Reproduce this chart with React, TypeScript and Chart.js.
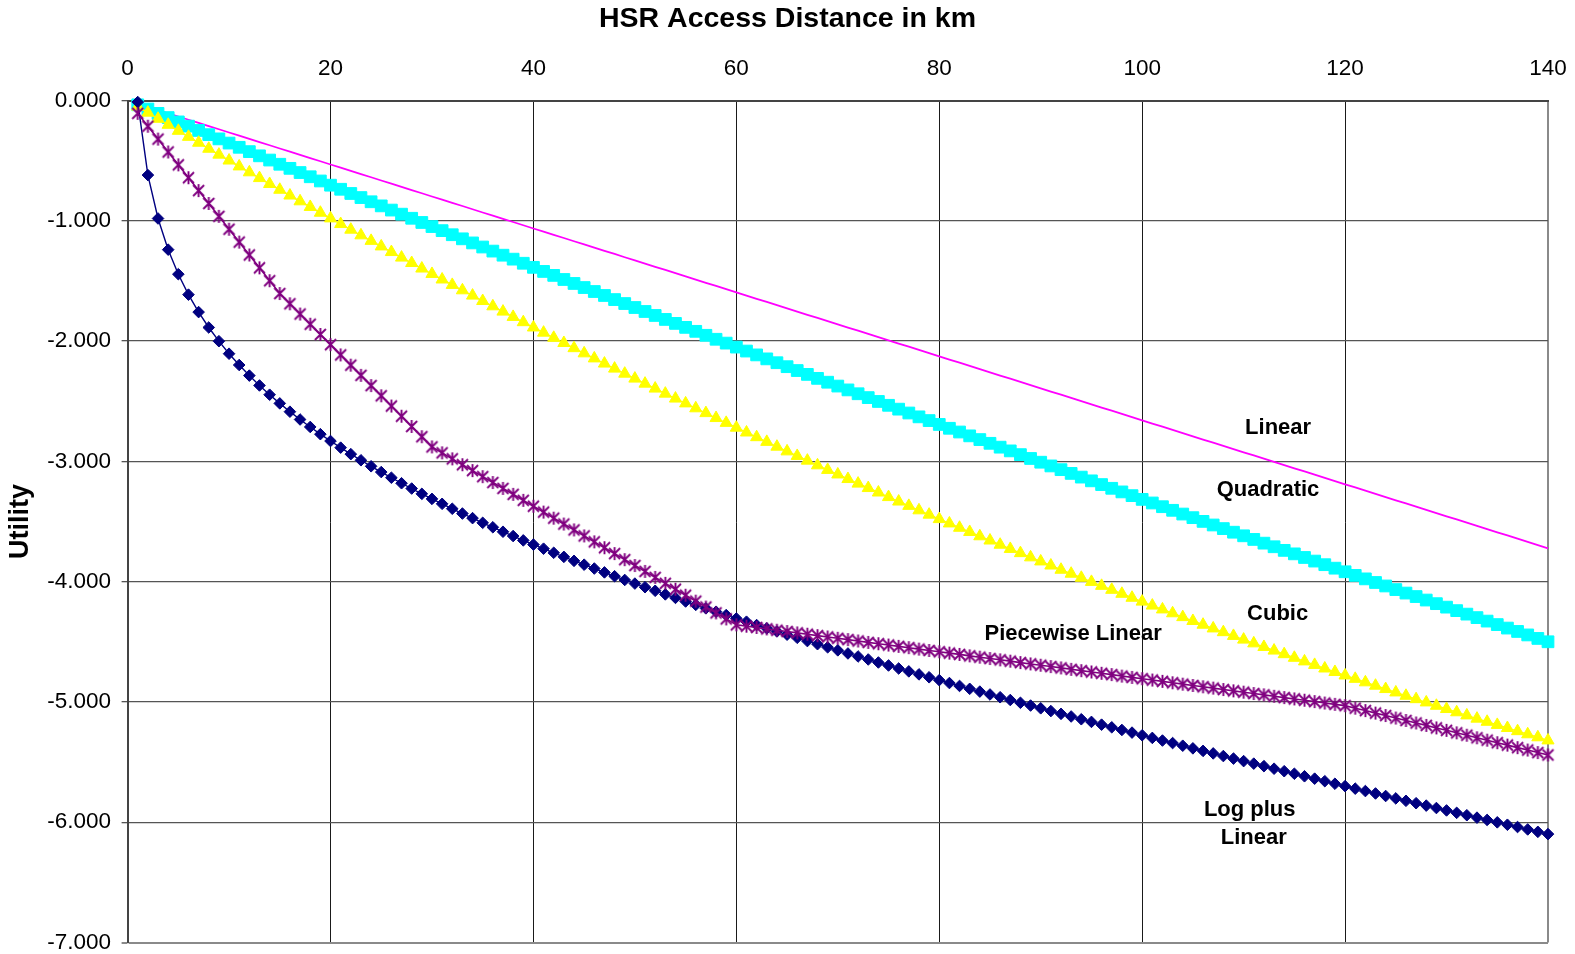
import React, { useEffect, useRef } from "react";
import { Chart, registerables } from "chart.js";

Chart.register(...registerables);

const FONT = '"Liberation Sans", Arial, Helvetica, sans-serif';

// Access distance (km) of each computed point
const DISTANCE_KM = [
  1, 2, 3, 4, 5, 6, 7, 8, 9, 10,
  11, 12, 13, 14, 15, 16, 17, 18, 19, 20,
  21, 22, 23, 24, 25, 26, 27, 28, 29, 30,
  31, 32, 33, 34, 35, 36, 37, 38, 39, 40,
  41, 42, 43, 44, 45, 46, 47, 48, 49, 50,
  51, 52, 53, 54, 55, 56, 57, 58, 59, 60,
  61, 62, 63, 64, 65, 66, 67, 68, 69, 70,
  71, 72, 73, 74, 75, 76, 77, 78, 79, 80,
  81, 82, 83, 84, 85, 86, 87, 88, 89, 90,
  91, 92, 93, 94, 95, 96, 97, 98, 99, 100,
  101, 102, 103, 104, 105, 106, 107, 108, 109, 110,
  111, 112, 113, 114, 115, 116, 117, 118, 119, 120,
  121, 122, 123, 124, 125, 126, 127, 128, 129, 130,
  131, 132, 133, 134, 135, 136, 137, 138, 139, 140,
];

const LINEAR = [
  -0.027, -0.053, -0.080, -0.106, -0.133, -0.160, -0.186, -0.213, -0.239, -0.266,
  -0.292, -0.319, -0.346, -0.372, -0.399, -0.425, -0.452, -0.479, -0.505, -0.532,
  -0.558, -0.585, -0.612, -0.638, -0.665, -0.691, -0.718, -0.745, -0.771, -0.798,
  -0.824, -0.851, -0.877, -0.904, -0.931, -0.957, -0.984, -1.010, -1.037, -1.064,
  -1.090, -1.117, -1.143, -1.170, -1.197, -1.223, -1.250, -1.276, -1.303, -1.330,
  -1.356, -1.383, -1.409, -1.436, -1.462, -1.489, -1.516, -1.542, -1.569, -1.595,
  -1.622, -1.649, -1.675, -1.702, -1.728, -1.755, -1.782, -1.808, -1.835, -1.861,
  -1.888, -1.914, -1.941, -1.968, -1.994, -2.021, -2.047, -2.074, -2.101, -2.127,
  -2.154, -2.180, -2.207, -2.234, -2.260, -2.287, -2.313, -2.340, -2.367, -2.393,
  -2.420, -2.446, -2.473, -2.499, -2.526, -2.553, -2.579, -2.606, -2.632, -2.659,
  -2.686, -2.712, -2.739, -2.765, -2.792, -2.819, -2.845, -2.872, -2.898, -2.925,
  -2.951, -2.978, -3.005, -3.031, -3.058, -3.084, -3.111, -3.138, -3.164, -3.191,
  -3.217, -3.244, -3.271, -3.297, -3.324, -3.350, -3.377, -3.404, -3.430, -3.457,
  -3.483, -3.510, -3.536, -3.563, -3.590, -3.616, -3.643, -3.669, -3.696, -3.723,
];

const QUADRATIC = [
  -0.036, -0.071, -0.107, -0.142, -0.178, -0.213, -0.249, -0.284, -0.319, -0.354,
  -0.389, -0.425, -0.460, -0.495, -0.530, -0.564, -0.599, -0.634, -0.669, -0.704,
  -0.738, -0.773, -0.807, -0.842, -0.876, -0.911, -0.945, -0.979, -1.014, -1.048,
  -1.082, -1.116, -1.150, -1.184, -1.218, -1.252, -1.286, -1.319, -1.353, -1.387,
  -1.421, -1.454, -1.488, -1.521, -1.555, -1.588, -1.621, -1.655, -1.688, -1.721,
  -1.754, -1.787, -1.820, -1.853, -1.886, -1.919, -1.952, -1.985, -2.017, -2.050,
  -2.083, -2.115, -2.148, -2.180, -2.213, -2.245, -2.277, -2.310, -2.342, -2.374,
  -2.406, -2.438, -2.470, -2.502, -2.534, -2.566, -2.598, -2.630, -2.661, -2.693,
  -2.725, -2.756, -2.788, -2.819, -2.850, -2.882, -2.913, -2.944, -2.976, -3.007,
  -3.038, -3.069, -3.100, -3.131, -3.162, -3.193, -3.224, -3.254, -3.285, -3.316,
  -3.346, -3.377, -3.407, -3.438, -3.468, -3.499, -3.529, -3.559, -3.589, -3.619,
  -3.649, -3.680, -3.710, -3.740, -3.769, -3.799, -3.829, -3.859, -3.888, -3.918,
  -3.948, -3.977, -4.007, -4.036, -4.066, -4.095, -4.124, -4.153, -4.183, -4.212,
  -4.241, -4.270, -4.299, -4.328, -4.357, -4.386, -4.414, -4.443, -4.472, -4.500,
];

const CUBIC = [
  -0.051, -0.101, -0.152, -0.202, -0.252, -0.302, -0.351, -0.401, -0.450, -0.499,
  -0.548, -0.597, -0.645, -0.694, -0.742, -0.790, -0.838, -0.885, -0.933, -0.980,
  -1.027, -1.074, -1.121, -1.167, -1.213, -1.260, -1.306, -1.351, -1.397, -1.442,
  -1.488, -1.533, -1.578, -1.622, -1.667, -1.711, -1.755, -1.799, -1.843, -1.887,
  -1.930, -1.973, -2.016, -2.059, -2.102, -2.144, -2.187, -2.229, -2.271, -2.312,
  -2.354, -2.395, -2.437, -2.478, -2.518, -2.559, -2.599, -2.640, -2.680, -2.720,
  -2.760, -2.799, -2.838, -2.878, -2.917, -2.955, -2.994, -3.033, -3.071, -3.109,
  -3.147, -3.185, -3.222, -3.259, -3.297, -3.334, -3.370, -3.407, -3.443, -3.480,
  -3.516, -3.552, -3.587, -3.623, -3.658, -3.693, -3.728, -3.763, -3.798, -3.832,
  -3.866, -3.901, -3.934, -3.968, -4.002, -4.035, -4.068, -4.101, -4.134, -4.166,
  -4.199, -4.231, -4.263, -4.295, -4.327, -4.358, -4.389, -4.420, -4.451, -4.482,
  -4.513, -4.543, -4.573, -4.603, -4.633, -4.663, -4.692, -4.722, -4.751, -4.780,
  -4.808, -4.837, -4.865, -4.893, -4.921, -4.949, -4.977, -5.004, -5.032, -5.059,
  -5.086, -5.112, -5.139, -5.165, -5.191, -5.217, -5.243, -5.269, -5.294, -5.320,
];

const PIECEWISE_LINEAR = [
  -0.107, -0.214, -0.321, -0.428, -0.535, -0.642, -0.749, -0.856, -0.963, -1.070,
  -1.177, -1.284, -1.391, -1.498, -1.605, -1.690, -1.775, -1.860, -1.945, -2.030,
  -2.115, -2.200, -2.285, -2.370, -2.455, -2.540, -2.625, -2.710, -2.795, -2.880,
  -2.929, -2.979, -3.028, -3.077, -3.127, -3.176, -3.225, -3.274, -3.324, -3.373,
  -3.422, -3.472, -3.521, -3.570, -3.620, -3.669, -3.718, -3.767, -3.817, -3.866,
  -3.915, -3.965, -4.014, -4.063, -4.113, -4.162, -4.211, -4.260, -4.310, -4.359,
  -4.370, -4.381, -4.393, -4.404, -4.415, -4.426, -4.437, -4.449, -4.460, -4.471,
  -4.482, -4.493, -4.505, -4.516, -4.527, -4.538, -4.549, -4.561, -4.572, -4.583,
  -4.594, -4.605, -4.617, -4.628, -4.639, -4.650, -4.661, -4.673, -4.684, -4.695,
  -4.706, -4.717, -4.729, -4.740, -4.751, -4.762, -4.773, -4.785, -4.796, -4.807,
  -4.818, -4.829, -4.841, -4.852, -4.863, -4.874, -4.885, -4.897, -4.908, -4.919,
  -4.930, -4.941, -4.953, -4.964, -4.975, -4.986, -4.997, -5.009, -5.020, -5.031,
  -5.052, -5.072, -5.093, -5.113, -5.134, -5.154, -5.175, -5.195, -5.216, -5.236,
  -5.257, -5.277, -5.298, -5.318, -5.339, -5.359, -5.380, -5.400, -5.421, -5.441,
];

const LOG_PLUS_LINEAR = [
  -0.013, -0.620, -0.981, -1.240, -1.444, -1.614, -1.759, -1.887, -2.001, -2.105,
  -2.199, -2.287, -2.369, -2.446, -2.518, -2.587, -2.652, -2.714, -2.774, -2.831,
  -2.886, -2.940, -2.991, -3.041, -3.089, -3.136, -3.182, -3.226, -3.270, -3.312,
  -3.353, -3.394, -3.434, -3.472, -3.511, -3.548, -3.585, -3.621, -3.657, -3.692,
  -3.726, -3.760, -3.794, -3.827, -3.859, -3.891, -3.923, -3.955, -3.986, -4.016,
  -4.046, -4.076, -4.106, -4.135, -4.165, -4.193, -4.222, -4.250, -4.278, -4.306,
  -4.333, -4.361, -4.388, -4.414, -4.441, -4.467, -4.494, -4.520, -4.546, -4.571,
  -4.597, -4.622, -4.647, -4.672, -4.697, -4.722, -4.746, -4.771, -4.795, -4.819,
  -4.843, -4.867, -4.891, -4.914, -4.938, -4.961, -4.984, -5.007, -5.030, -5.053,
  -5.076, -5.099, -5.121, -5.144, -5.166, -5.189, -5.211, -5.233, -5.255, -5.277,
  -5.299, -5.321, -5.342, -5.364, -5.386, -5.407, -5.428, -5.450, -5.471, -5.492,
  -5.513, -5.534, -5.555, -5.576, -5.597, -5.618, -5.638, -5.659, -5.680, -5.700,
  -5.721, -5.741, -5.761, -5.782, -5.802, -5.822, -5.842, -5.862, -5.882, -5.902,
  -5.922, -5.942, -5.962, -5.981, -6.001, -6.021, -6.040, -6.060, -6.080, -6.099,
];

const X_TICKS = [0, 20, 40, 60, 80, 100, 120, 140];
const Y_TICKS = [0, -1, -2, -3, -4, -5, -6, -7];

// In-plot curve names, anchored in data units (km, utility)
const CURVE_LABELS = ["Linear", "Quadratic", "Cubic", "Piecewise Linear", "Log plus", "Linear"];
const CURVE_LABEL_X = [113.4, 112.4, 113.35, 93.2, 110.6, 111.0];
const CURVE_LABEL_Y = [-2.723, -3.236, -4.271, -4.437, -5.898, -6.127];

function makeStarMarker(color: string): HTMLCanvasElement {
  const c = document.createElement("canvas");
  c.width = 15;
  c.height = 15;
  const g = c.getContext("2d")!;
  g.strokeStyle = color;
  g.lineWidth = 1.9;
  g.beginPath();
  g.moveTo(2, 2);
  g.lineTo(13, 13);
  g.moveTo(13, 2);
  g.lineTo(2, 13);
  g.moveTo(7.5, 1);
  g.lineTo(7.5, 14);
  g.stroke();
  return c;
}

const curveLabelPlugin = {
  id: "curveLabels",
  afterDatasetsDraw(chart: any) {
    const { ctx, scales } = chart;
    const xs = scales.x;
    const ys = scales.y;
    ctx.save();
    ctx.font = `bold 22px ${FONT}`;
    ctx.fillStyle = "#000";
    ctx.textAlign = "center";
    ctx.textBaseline = "middle";
    CURVE_LABELS.forEach((text, i) => {
      ctx.fillText(text, xs.getPixelForValue(CURVE_LABEL_X[i]), ys.getPixelForValue(CURVE_LABEL_Y[i]));
    });
    ctx.restore();
  },
};

function points(values: number[]) {
  return DISTANCE_KM.map((x, i) => ({ x, y: values[i] }));
}

export default function App() {
  const canvasRef = useRef<HTMLCanvasElement | null>(null);

  useEffect(() => {
    const canvas = canvasRef.current;
    if (!canvas) return;
    const star = makeStarMarker("#800080");

    const chart = new Chart(canvas, {
      type: "line",
      data: {
        datasets: [
          {
            label: "Piecewise Linear",
            data: points(PIECEWISE_LINEAR),
            borderColor: "#800080",
            borderWidth: 1.6,
            pointStyle: star as any,
            pointRadius: 6,
            clip: false as any,
          },
          {
            label: "Log plus Linear",
            data: points(LOG_PLUS_LINEAR),
            borderColor: "#000080",
            backgroundColor: "#000080",
            borderWidth: 1.4,
            pointStyle: "rectRot",
            pointRadius: 5.8,
            pointBorderWidth: 1,
            pointBackgroundColor: "#000080",
            pointBorderColor: "#000080",
            clip: false as any,
          },
          {
            label: "Cubic",
            data: points(CUBIC),
            borderColor: "#FFFF00",
            borderWidth: 1.5,
            pointStyle: "triangle",
            pointRadius: 7,
            pointBorderWidth: 1,
            pointBackgroundColor: "#FFFF00",
            pointBorderColor: "#FFFF00",
            clip: false as any,
          },
          {
            label: "Quadratic",
            data: points(QUADRATIC),
            borderColor: "#00FFFF",
            borderWidth: 1.5,
            pointStyle: "rect",
            pointRadius: 8.3,
            pointBorderWidth: 1,
            pointBackgroundColor: "#00FFFF",
            pointBorderColor: "#00FFFF",
            clip: false as any,
          },
          {
            label: "Linear",
            data: points(LINEAR),
            borderColor: "#FF00FF",
            borderWidth: 1.8,
            pointRadius: 0,
            clip: false as any,
          },
        ],
      },
      options: {
        responsive: false,
        animation: false,
        events: [],
        layout: { padding: { left: 0, right: 0, top: 0, bottom: 11.5 } },
        plugins: {
          legend: { display: false },
          tooltip: { enabled: false },
          title: {
            display: true,
            text: "HSR Access Distance in km",
            color: "#000",
            font: { family: FONT, size: 28.5, weight: "bold", lineHeight: 1.2 },
            padding: { top: 2, bottom: 0 },
          },
        },
        scales: {
          x: {
            type: "linear",
            position: "top",
            min: 0,
            max: 140,
            afterBuildTicks: (scale: any) => {
              scale.ticks = X_TICKS.map((value) => ({ value }));
            },
            afterFit: (scale: any) => {
              scale.height = 64.3;
              scale.paddingLeft = 0;
              scale.paddingRight = 0;
            },
            ticks: {
              color: "#000",
              font: { family: FONT, size: 22.5 },
              padding: 18,
              maxRotation: 0,
              autoSkip: false,
            },
            grid: {
              drawTicks: false,
              color: (ctx: any) => (ctx.tick && ctx.tick.value === 140 ? "#8a8a8a" : "#1a1a1a"),
              lineWidth: (ctx: any) => (ctx.tick && ctx.tick.value === 140 ? 2 : 1),
            },
            border: { display: true, color: "#444", width: 2 },
          },
          y: {
            type: "linear",
            position: "left",
            min: -7,
            max: 0,
            afterBuildTicks: (scale: any) => {
              scale.ticks = Y_TICKS.map((value) => ({ value }));
            },
            afterFit: (scale: any) => {
              scale.width = 127.6;
              scale.paddingTop = 0;
              scale.paddingBottom = 0;
            },
            ticks: {
              color: "#000",
              font: { family: FONT, size: 22.5 },
              padding: 10.5,
              autoSkip: false,
              callback: (v: any) => Number(v).toFixed(3),
            },
            grid: {
              tickLength: 6,
              color: (ctx: any) => (ctx.tick && ctx.tick.value === -7 ? "#8a8a8a" : "#555"),
              lineWidth: (ctx: any) => (ctx.tick && ctx.tick.value === -7 ? 2 : 1.3),
            },
            border: { display: true, color: "#444", width: 2 },
            title: {
              display: true,
              text: "Utility",
              color: "#000",
              font: { family: FONT, size: 27, weight: "bold", lineHeight: 1.2 },
              padding: { top: 4.4, bottom: 0 },
            },
          },
          // empty right-hand box keeping the right margin inside the layout
          yRight: {
            type: "linear",
            position: "right",
            min: -7,
            max: 0,
            ticks: { display: false },
            grid: { display: false, drawOnChartArea: false },
            border: { display: false },
            afterFit: (scale: any) => {
              scale.width = 27;
              scale.paddingTop = 0;
              scale.paddingBottom = 0;
            },
          },
        },
      } as any,
      plugins: [curveLabelPlugin],
    });

    return () => chart.destroy();
  }, []);

  return (
    <div style={{ position: "absolute", left: 0, top: 0, width: 1575, height: 954, background: "#fff" }}>
      <canvas ref={canvasRef} width={1575} height={954} style={{ display: "block" }} />
    </div>
  );
}
